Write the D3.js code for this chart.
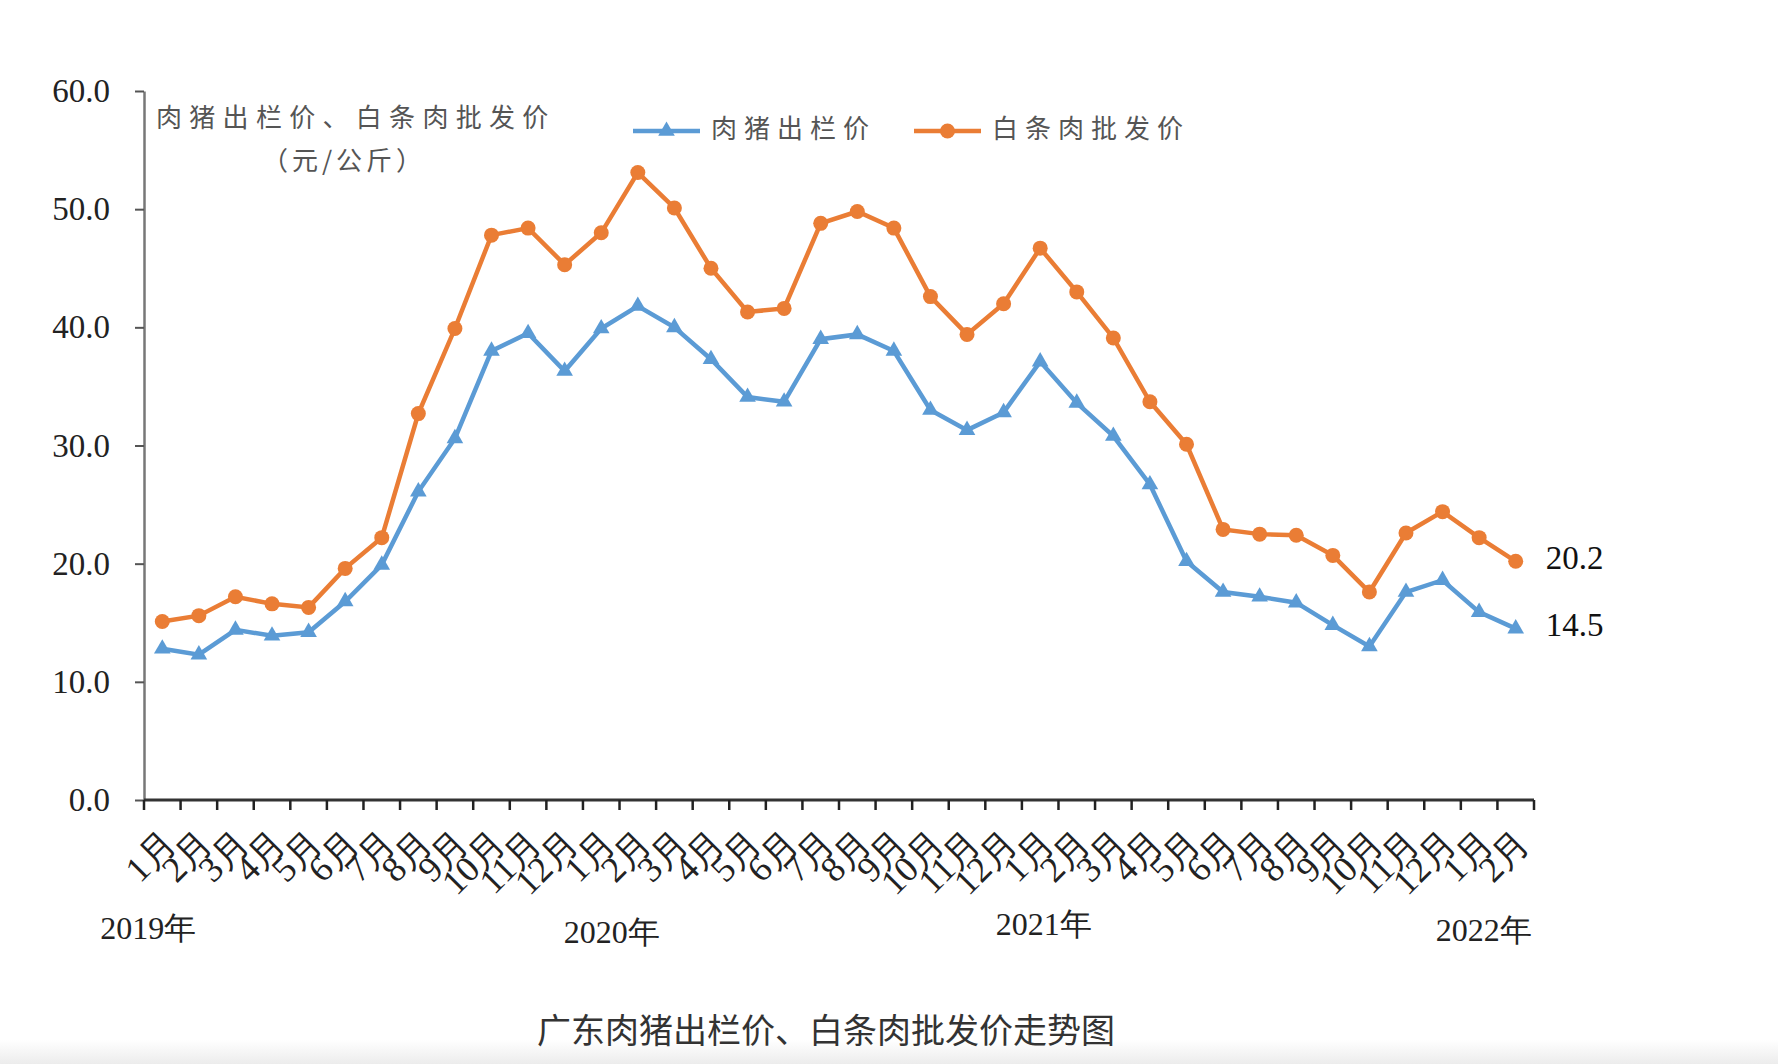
<!DOCTYPE html>
<html>
<head>
<meta charset="utf-8">
<script src="https://cdn.jsdelivr.net/npm/d3@7"></script>
<style>
  body { margin: 0; background: #fff; }
  svg { display: block; }
</style>
</head>
<body>
<div id="chart"></div>
<script>
// Month labels, Jan 2019 .. Feb 2022
var months = [
  "1月", "2月", "3月", "4月", "5月", "6月", "7月", "8月", "9月", "10月", "11月", "12月",
  "1月", "2月", "3月", "4月", "5月", "6月", "7月", "8月", "9月", "10月", "11月", "12月",
  "1月", "2月", "3月", "4月", "5月", "6月", "7月", "8月", "9月", "10月", "11月", "12月",
  "1月", "2月"
];
var years = ["2019年", "2020年", "2021年", "2022年"];
var yearAt = [0, 13, 25, 37]; // month index each year label sits under

// 肉猪出栏价 (blue)
var hogPrice = [
  12.8, 12.3, 14.4, 13.9, 14.2, 16.8, 19.9, 26.1, 30.6, 38.0, 39.5, 36.3,
  39.9, 41.8, 40.0, 37.3, 34.1, 33.7, 39.0, 39.4, 38.0, 33.0, 31.3, 32.8,
  37.1, 33.6, 30.8, 26.7, 20.2, 17.6, 17.2, 16.7, 14.8, 13.0, 17.6, 18.6,
  15.9, 14.5
];
// 白条肉批发价 (orange)
var porkPrice = [
  15.1, 15.6, 17.2, 16.6, 16.3, 19.6, 22.2, 32.7, 39.9, 47.8, 48.4, 45.3,
  48.0, 53.1, 50.1, 45.0, 41.3, 41.6, 48.8, 49.8, 48.4, 42.6, 39.4, 42.0,
  46.7, 43.0, 39.1, 33.7, 30.1, 22.9, 22.5, 22.4, 20.7, 17.6, 22.6, 24.4,
  22.2, 20.2
];
var yTicks = [0, 10, 20, 30, 40, 50, 60];

var W = 1778, H = 1064;
var blue = "#5b9bd5", orange = "#ea7d35";
var serif = "'Liberation Serif', 'Times New Roman', serif";
var cjk = "'Noto Sans CJK SC', sans-serif";

var svg = d3.select("#chart").append("svg")
  .attr("width", W)
  .attr("height", H);

// bottom grey fade
var defs = svg.append("defs");
var grad = defs.append("linearGradient").attr("id", "fade")
  .attr("x1", 0).attr("y1", 0).attr("x2", 0).attr("y2", 1);
grad.append("stop").attr("offset", "0%").attr("stop-color", "#fff");
grad.append("stop").attr("offset", "100%").attr("stop-color", "#ececec");
svg.append("rect").attr("x", 0).attr("y", 1040).attr("width", W).attr("height", 24)
  .attr("fill", "url(#fade)");

var plotL = 144, plotR = 1534, plotT = 91, plotB = 800;

var idx = d3.range(months.length);
var x = d3.scalePoint().domain(idx).range([plotL, plotR]).padding(0.5);
var step = x.step();
var y = d3.scaleLinear().domain([0, 60]).range([plotB, plotT]);

// Y axis
var yAxis = svg.append("g")
  .attr("transform", "translate(" + plotL + ",0)")
  .call(d3.axisLeft(y).tickValues(yTicks).tickFormat(d3.format(".1f"))
    .tickSize(9).tickSizeOuter(0).tickPadding(25));
yAxis.select(".domain").attr("stroke", "#777").attr("stroke-width", 2.5);
yAxis.selectAll(".tick line").attr("stroke", "#555").attr("stroke-width", 2);
yAxis.selectAll("text")
  .attr("font-family", serif)
  .attr("font-size", 33)
  .attr("fill", "#222");

// X axis line + boundary ticks
var xg = svg.append("g");
xg.append("line")
  .attr("x1", plotL).attr("x2", plotR)
  .attr("y1", y(0)).attr("y2", y(0))
  .attr("stroke", "#333").attr("stroke-width", 3);
xg.selectAll(".bt").data(d3.range(months.length + 1)).enter().append("line")
  .attr("x1", function(d) { return plotL + d * step; })
  .attr("x2", function(d) { return plotL + d * step; })
  .attr("y1", y(0))
  .attr("y2", y(0) + 10)
  .attr("stroke", "#222").attr("stroke-width", 2.5);

// Month labels (rotated)
xg.selectAll(".ml").data(idx).enter().append("text")
  .attr("transform", function(d) {
    return "translate(" + (x(d) + 10) + "," + (y(0) + 40) + ") rotate(-45)";
  })
  .attr("text-anchor", "end")
  .attr("dominant-baseline", "middle")
  .attr("font-family", serif)
  .attr("font-size", 36)
  .attr("fill", "#222")
  .text(function(d) { return months[d]; });

// Year labels
var yearY = [939, 943, 935, 941];
var yearDx = [-14, -26, -33, -32];
xg.selectAll(".yl").data(years).enter().append("text")
  .attr("x", function(d, i) { return x(yearAt[i]) + yearDx[i]; })
  .attr("y", function(d, i) { return yearY[i]; })
  .attr("text-anchor", "middle")
  .attr("font-family", serif)
  .attr("font-size", 32)
  .attr("fill", "#222")
  .text(function(d) { return d; });

// Lines
var line = d3.line()
  .x(function(d, i) { return x(i); })
  .y(function(d) { return y(d); });

svg.append("path").datum(porkPrice)
  .attr("d", line)
  .attr("fill", "none")
  .attr("stroke", orange)
  .attr("stroke-width", 4.5);

svg.append("path").datum(hogPrice)
  .attr("d", line)
  .attr("fill", "none")
  .attr("stroke", blue)
  .attr("stroke-width", 4.5);

var tri = d3.symbol().type(d3.symbolTriangle).size(120);

svg.selectAll(".pm").data(porkPrice).enter().append("circle")
  .attr("cx", function(d, i) { return x(i); })
  .attr("cy", function(d) { return y(d); })
  .attr("r", 7.5)
  .attr("fill", orange);

svg.selectAll(".hm").data(hogPrice).enter().append("path")
  .attr("d", tri)
  .attr("transform", function(d, i) { return "translate(" + x(i) + "," + y(d) + ")"; })
  .attr("fill", blue);

// End value labels
var last = months.length - 1;
svg.append("text")
  .attr("x", x(last) + 30).attr("y", y(porkPrice[last]))
  .attr("dominant-baseline", "middle")
  .attr("font-family", serif).attr("font-size", 33).attr("fill", "#111")
  .text(d3.format(".1f")(porkPrice[last]));
svg.append("text")
  .attr("x", x(last) + 30).attr("y", y(hogPrice[last]))
  .attr("dominant-baseline", "middle")
  .attr("font-family", serif).attr("font-size", 33).attr("fill", "#111")
  .text(d3.format(".1f")(hogPrice[last]));

// Y axis title
svg.append("text")
  .attr("x", 156).attr("y", 127)
  .attr("font-family", cjk).attr("font-size", 26)
  .attr("letter-spacing", 7.3)
  .attr("fill", "#555")
  .text("肉猪出栏价、白条肉批发价");
svg.append("text")
  .attr("x", 344).attr("y", 170)
  .attr("text-anchor", "middle")
  .attr("font-family", cjk).attr("font-size", 26)
  .attr("letter-spacing", 4)
  .attr("fill", "#555")
  .text("（元/公斤）");

// Legend
var legend = [
  { name: "肉猪出栏价", color: blue, shape: "tri", x: 633 },
  { name: "白条肉批发价", color: orange, shape: "circle", x: 914 }
];
var lg = svg.selectAll(".lg").data(legend).enter().append("g")
  .attr("transform", function(d) { return "translate(" + d.x + ",131)"; });
lg.append("line")
  .attr("x1", 0).attr("x2", 67).attr("y1", 0).attr("y2", 0)
  .attr("stroke", function(d) { return d.color; })
  .attr("stroke-width", 4.5);
lg.each(function(d) {
  var g = d3.select(this);
  if (d.shape === "tri") {
    g.append("path").attr("d", tri).attr("transform", "translate(33.5,0)").attr("fill", d.color);
  } else {
    g.append("circle").attr("cx", 33.5).attr("cy", 0).attr("r", 7.5).attr("fill", d.color);
  }
});
lg.append("text")
  .attr("x", 78).attr("y", 0)
  .attr("dominant-baseline", "middle")
  .attr("font-family", cjk).attr("font-size", 26)
  .attr("letter-spacing", 7)
  .attr("fill", "#555")
  .text(function(d) { return d.name; });

// Caption
svg.append("text")
  .attr("x", 826).attr("y", 1034)
  .attr("text-anchor", "middle")
  .attr("dominant-baseline", "middle")
  .attr("font-family", cjk).attr("font-size", 34)
  .attr("fill", "#333")
  .text("广东肉猪出栏价、白条肉批发价走势图");
</script>
</body>
</html>
